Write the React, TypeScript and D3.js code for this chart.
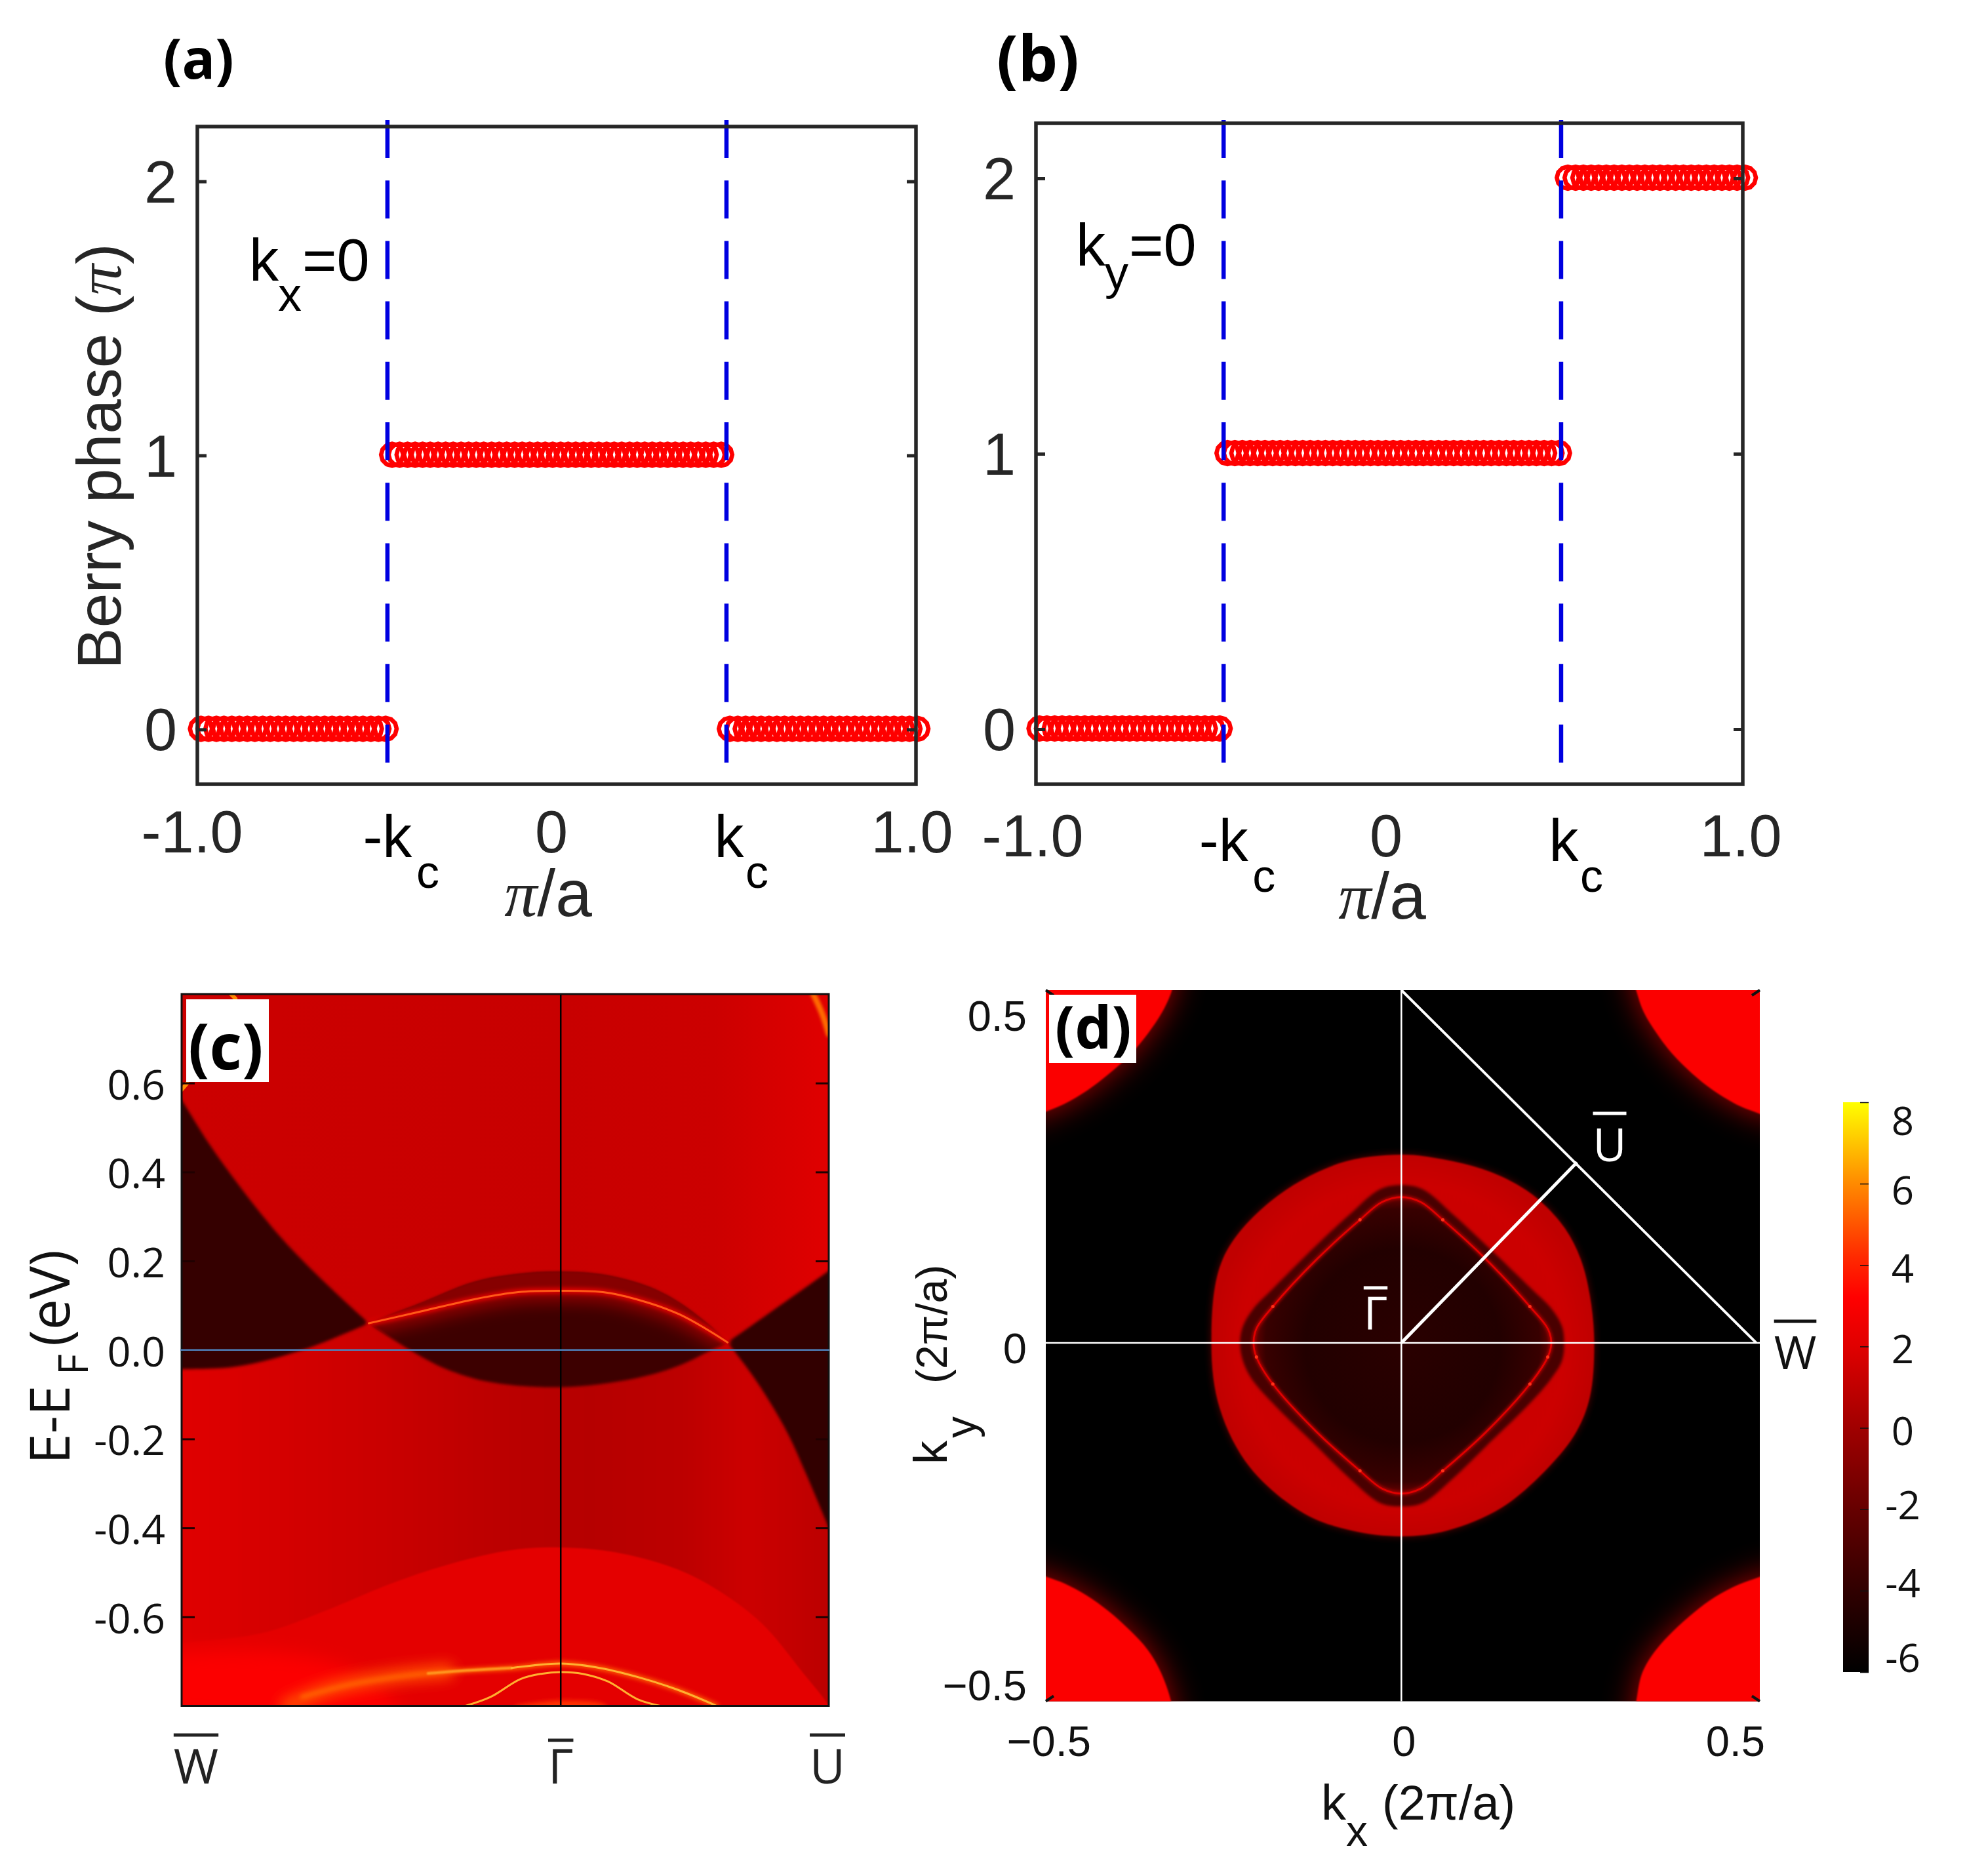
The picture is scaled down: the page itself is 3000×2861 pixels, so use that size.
import { useEffect, useRef } from 'react';
import * as d3 from 'd3';

type Pt = number[];

const SANS = '"Liberation Sans", Arial, sans-serif';
const OPEN = '"Open Sans", sans-serif';
const DARK = '#262626';

// ---- panels (a) and (b): Berry phase against k ----
const berryTicks = [0, 1, 2];
const aCut = [-0.471, 0.4726];
const bCut = [-0.469, 0.486];

const aLowK = [-0.990, -0.969, -0.947, -0.926, -0.904, -0.883, -0.861, -0.840, -0.818, -0.797, -0.775, -0.754, -0.732, -0.711, -0.689, -0.668, -0.646, -0.625, -0.603, -0.582, -0.560, -0.539, -0.517, -0.496, -0.476];
const aMidK = [-0.458, -0.437, -0.415, -0.394, -0.373, -0.352, -0.330, -0.309, -0.288, -0.266, -0.245, -0.224, -0.203, -0.181, -0.160, -0.139, -0.117, -0.096, -0.075, -0.053, -0.032, -0.011, 0.011, 0.032, 0.053, 0.075, 0.096, 0.117, 0.139, 0.160, 0.181, 0.203, 0.224, 0.245, 0.266, 0.288, 0.309, 0.330, 0.352, 0.373, 0.394, 0.415, 0.437, 0.458];
const aHighK = [0.482, 0.504, 0.526, 0.547, 0.569, 0.591, 0.613, 0.634, 0.656, 0.678, 0.700, 0.721, 0.743, 0.765, 0.787, 0.808, 0.830, 0.852, 0.874, 0.895, 0.917, 0.939, 0.961, 0.982, 1.004];
const bLowK = [-0.990, -0.969, -0.947, -0.926, -0.905, -0.884, -0.862, -0.841, -0.820, -0.799, -0.777, -0.756, -0.735, -0.714, -0.692, -0.671, -0.650, -0.629, -0.607, -0.586, -0.565, -0.544, -0.522, -0.501, -0.480];
const bMidK = [-0.458, -0.437, -0.416, -0.394, -0.373, -0.352, -0.330, -0.309, -0.288, -0.266, -0.245, -0.224, -0.202, -0.181, -0.160, -0.138, -0.117, -0.096, -0.074, -0.053, -0.032, -0.010, 0.011, 0.032, 0.054, 0.075, 0.096, 0.118, 0.139, 0.160, 0.182, 0.203, 0.224, 0.246, 0.267, 0.288, 0.310, 0.331, 0.352, 0.374, 0.395, 0.416, 0.438, 0.459, 0.480];
const bHighK = [0.505, 0.527, 0.549, 0.571, 0.592, 0.614, 0.636, 0.658, 0.679, 0.701, 0.723, 0.745, 0.766, 0.788, 0.810, 0.832, 0.854, 0.875, 0.897, 0.919, 0.941, 0.962, 0.984, 1.006];
const aSeries = [{ k: aLowK, phase: 0 }, { k: aMidK, phase: 1 }, { k: aHighK, phase: 0 }];
const bSeries = [{ k: bLowK, phase: 0 }, { k: bMidK, phase: 1 }, { k: bHighK, phase: 2 }];

// ---- panel (c): E(k) map, k runs from W (-1) through Gamma (0) to U (0.707) ----
const cTicks = [0.6, 0.4, 0.2, 0, -0.2, -0.4, -0.6];
const cTickText = ['0.6', '0.4', '0.2', '0.0', '-0.2', '-0.4', '-0.6'];
const wedgeTop: Pt[] = [[-1.03, 0.60], [-1, 0.562], [-0.928, 0.464], [-0.839, 0.359], [-0.734, 0.249], [-0.63, 0.158], [-0.506, 0.06]];
const wedgeBottom: Pt[] = [[-0.506, 0.06], [-0.675, 0.002], [-0.854, -0.037], [-1, -0.043], [-1.03, -0.043]];
const lensBottom: Pt[] = [[-0.506, 0.06], [-0.398, 0], [-0.305, -0.042], [-0.189, -0.072], [0, -0.084], [0.197, -0.064], [0.313, -0.035], [0.398, 0], [0.44, 0.017]];
const lensTop: Pt[] = [[-0.506, 0.06], [-0.382, 0.10], [-0.228, 0.152], [-0.112, 0.17], [0, 0.175], [0.12, 0.167], [0.235, 0.14], [0.313, 0.105], [0.382, 0.061], [0.44, 0.017]];
const surfaceBand: Pt[] = [[-0.506, 0.06], [-0.382, 0.084], [-0.228, 0.114], [-0.112, 0.13], [0, 0.133], [0.12, 0.129], [0.235, 0.105], [0.313, 0.08], [0.382, 0.048], [0.44, 0.017]];
const rightWedgeTop: Pt[] = [[0.44, 0.017], [0.55, 0.083], [0.707, 0.178], [0.74, 0.20]];
const rightWedgeBottom: Pt[] = [[0.44, 0.017], [0.50, -0.05], [0.55, -0.115], [0.60, -0.19], [0.65, -0.285], [0.707, -0.401], [0.74, -0.47]];
const lowBandTop: Pt[] = [[-1.03, -0.662], [-1, -0.659], [-0.791, -0.637], [-0.626, -0.588], [-0.46, -0.529], [-0.295, -0.482], [-0.13, -0.45], [0, -0.444], [0.146, -0.455], [0.311, -0.494], [0.422, -0.544], [0.533, -0.617], [0.643, -0.73], [0.703, -0.794], [0.72, -0.82]];
const lowGlow: Pt[] = [[-1.03, -0.68], [-0.75, -0.68], [-0.55, -0.72], [-0.42, -0.82], [-1.03, -0.82]];
const lowLineOuter: Pt[] = [[-0.681, -0.78], [-0.571, -0.755], [-0.46, -0.738], [-0.35, -0.727], [-0.24, -0.72], [-0.13, -0.715], [0, -0.705], [0.091, -0.713], [0.202, -0.735], [0.312, -0.765], [0.411, -0.80]];
const lowLineSmear: Pt[] = [[-0.72, -0.80], [-0.62, -0.765], [-0.52, -0.745], [-0.42, -0.732], [-0.30, -0.722]];
const lowLineInner: Pt[] = [[-0.251, -0.80], [-0.185, -0.78], [-0.107, -0.74], [-0.052, -0.728], [0, -0.724], [0.058, -0.728], [0.124, -0.745], [0.202, -0.785], [0.262, -0.80]];
const topRightStreak: Pt[] = [[0.666, 0.80], [0.69, 0.755], [0.707, 0.71]];
const topLeftStreak: Pt[] = [[-0.87, 0.80], [-0.858, 0.79]];
const leftStreak: Pt[] = [[-1, 0.585], [-0.985, 0.60]];

// ---- panel (d): constant energy map ----
const dTicks = [-0.5, 0, 0.5];
const dXText = ['\u22120.5', '0', '0.5'];
const dYText = ['\u22120.5', '0', '0.5'];
const blob: Pt[] = [[0, 0.2646], [0.058, 0.258], [0.119, 0.2425], [0.162, 0.2225], [0.196, 0.198], [0.229, 0.161], [0.251, 0.118], [0.264, 0.066], [0.27, 0], [0.264, -0.076], [0.245, -0.125], [0.206, -0.175], [0.14, -0.232], [0.064, -0.264], [0, -0.272], [-0.069, -0.264], [-0.136, -0.24], [-0.212, -0.175], [-0.254, -0.093], [-0.266, 0], [-0.25, 0.118], [-0.183, 0.199], [-0.088, 0.252]];
const diamondOuter: Pt[] = [[0, 0.222], [0.03, 0.216], [0.073, 0.18], [0.119, 0.137], [0.18, 0.078], [0.211, 0.047], [0.225, 0.023], [0.228, 0], [0.225, -0.025], [0.21, -0.05], [0.18, -0.085], [0.119, -0.145], [0.073, -0.19], [0.03, -0.225], [0, -0.23], [-0.03, -0.225], [-0.073, -0.19], [-0.119, -0.145], [-0.18, -0.085], [-0.21, -0.05], [-0.222, -0.025], [-0.226, 0], [-0.222, 0.023], [-0.208, 0.047], [-0.178, 0.078], [-0.119, 0.137], [-0.073, 0.18], [-0.03, 0.216]];
const diamondInner: Pt[] = [[0, 0.205], [0.027, 0.198], [0.058, 0.173], [0.119, 0.117], [0.18, 0.051], [0.205, 0.02], [0.21, 0], [0.205, -0.02], [0.18, -0.058], [0.119, -0.125], [0.058, -0.18], [0.027, -0.205], [0, -0.212], [-0.027, -0.205], [-0.058, -0.18], [-0.119, -0.125], [-0.18, -0.058], [-0.203, -0.02], [-0.207, 0], [-0.203, 0.02], [-0.18, 0.051], [-0.119, 0.117], [-0.058, 0.173], [-0.027, 0.198]];
const diamondSpots: Pt[] = [[0.058, 0.173], [-0.058, 0.173], [0.18, 0.051], [-0.18, 0.051], [0.205, -0.02], [-0.203, -0.02], [0.18, -0.058], [0.058, -0.18], [-0.058, -0.18], [-0.18, -0.058]];
const cornerTR: Pt[] = [[0.322, 0.52], [0.329, 0.495], [0.3395, 0.465], [0.358, 0.4346], [0.379, 0.407], [0.407, 0.379], [0.437, 0.355], [0.474, 0.333], [0.502, 0.322], [0.53, 0.31]];
const cornerTL: Pt[] = [[-0.318, 0.52], [-0.321, 0.497], [-0.335, 0.465], [-0.355, 0.435], [-0.38, 0.405], [-0.41, 0.378], [-0.44, 0.355], [-0.472, 0.336], [-0.498, 0.325], [-0.53, 0.31]];
const cornerBL: Pt[] = [[-0.319, -0.53], [-0.323, -0.5025], [-0.337, -0.463], [-0.355, -0.432], [-0.38, -0.4045], [-0.4105, -0.377], [-0.441, -0.355], [-0.4717, -0.3384], [-0.4968, -0.329], [-0.53, -0.315]];
const cornerBR: Pt[] = [[0.325, -0.53], [0.329, -0.504], [0.337, -0.465], [0.355, -0.434], [0.38, -0.406], [0.41, -0.379], [0.44, -0.357], [0.472, -0.34], [0.502, -0.329], [0.53, -0.315]];
const pathGU: Pt[] = [[0, 0], [0.246, 0.254]];
const pathUW: Pt[] = [[0, 0.496], [0.497, 0]];

const cbTicks = [-6, -4, -2, 0, 2, 4, 6, 8];
const cbStopValues = [-6, -4, -2, 0, 2, 3.2, 4.2, 6, 8];
const cbStopColors = ['#000000', '#300000', '#660000', '#a00000', '#e00000', '#ff0000', '#ff2a00', '#ff8a00', '#ffff00'];

const App = () => {
    const svgRef = useRef<SVGSVGElement | null>(null);

    const renderChart = () => {
        const svgElement = svgRef.current;
        if (!svgElement) return;
        document.body.style.margin = '0';

        const svg = d3.select(svgElement);
        svg.selectAll('*').remove();
        svg.append('rect').attr('width', 3000).attr('height', 2861).attr('fill', '#fff');

        const defs = svg.append('defs');
        [1, 2, 3, 6, 10, 14, 24].forEach(s => {
            defs.append('filter').attr('id', `blur${s}`)
                .attr('filterUnits', 'userSpaceOnUse')
                .attr('x', 0).attr('y', 1400).attr('width', 3000).attr('height', 1461)
                .append('feGaussianBlur').attr('stdDeviation', s);
        });

        const gradient = (id: string, x1: number, x2: number, stops: [number, string][]) => {
            const g = defs.append('linearGradient').attr('id', id)
                .attr('gradientUnits', 'userSpaceOnUse')
                .attr('x1', x1).attr('x2', x2).attr('y1', 0).attr('y2', 0);
            stops.forEach(([at, color]) => {
                g.append('stop').attr('offset', (at - x1) / (x2 - x1)).attr('stop-color', color);
            });
        };

        const textAt = (x: number, y: number, str: string, size: number, family = SANS, fill = DARK, anchor = 'middle') =>
            svg.append('text').attr('x', x).attr('y', y).attr('text-anchor', anchor)
                .attr('font-family', family).attr('font-size', size).attr('fill', fill).text(str);

        const barLabel = (x: number, base: number, str: string, barY: number, size: number, fill: string) => {
            const t = textAt(x, base, str, size, OPEN, fill);
            const w = (t.node() as SVGTextElement).getComputedTextLength();
            svg.append('line').attr('x1', x - w / 2).attr('x2', x + w / 2).attr('y1', barY).attr('y2', barY)
                .attr('stroke', fill).attr('stroke-width', 5);
        };

        // ---- (a) (b) ----
        const marker = d3.lineRadial<number>().radius(16.8).angle(d => d).curve(d3.curveLinearClosed);
        const markerPath = marker([0, 1, 2, 3, 4, 5, 6, 7, 8, 9, 10, 11].map(i => Math.PI / 6 * i + Math.PI / 2));

        const drawBerry = (o: any) => {
            const x = d3.scaleLinear().domain([-1, 1]).range([o.left, o.right]);
            const y = d3.scaleLinear().domain([-0.2, 2.2]).range([1196, o.top]);
            const g = svg.append('g');

            o.series.forEach((s: any) => {
                g.append('g').selectAll('path').data(s.k).join('path')
                    .attr('d', markerPath)
                    .attr('transform', (d: any) => `translate(${x(d)},${y(s.phase) - 1})`)
                    .attr('fill', 'none').attr('stroke', '#ff0000').attr('stroke-width', 6.6);
            });

            o.cut.forEach((k: number) => {
                g.append('line').attr('x1', x(k)).attr('x2', x(k)).attr('y1', 183).attr('y2', 1164)
                    .attr('stroke', '#0000e0').attr('stroke-width', 6.5)
                    .attr('stroke-dasharray', '58,34.2');
            });

            const left = svg.append('g').attr('transform', `translate(${o.left},0)`)
                .call(d3.axisLeft(y).tickValues(berryTicks).tickSize(-14).tickFormat(() => '') as any);
            const right = svg.append('g').attr('transform', `translate(${o.right},0)`)
                .call(d3.axisRight(y).tickValues(berryTicks).tickSize(-14).tickFormat(() => '') as any);
            [left, right].forEach(a => {
                a.select('.domain').remove();
                a.selectAll('line').attr('stroke', DARK).attr('stroke-width', 5);
            });
            svg.append('rect').attr('x', o.left).attr('y', o.top)
                .attr('width', o.right - o.left).attr('height', 1196 - o.top)
                .attr('fill', 'none').attr('stroke', DARK).attr('stroke-width', 5.5);

            berryTicks.forEach(t => textAt(o.left - 56, y(t) + 32, String(t), 90));

            textAt(x(-1) + o.numDx, o.numBase, '-1.0', 90);
            textAt(x(0) + o.numDx, o.numBase, '0', 90);
            textAt(x(1) + o.numDx + 2, o.numBase, '1.0', 90);
            textAt(x(o.cut[0]), o.kBase, '-k', 90, SANS, '#000');
            textAt(x(o.cut[0]) + 44, o.kBase + 47, 'c', 70, SANS, '#000', 'start');
            textAt(x(o.cut[1]) + 4, o.kBase, 'k', 90, SANS, '#000');
            textAt(x(o.cut[1]) + 29, o.kBase + 47, 'c', 70, SANS, '#000', 'start');

            const unit = textAt(o.unitX, o.unitBase, '', 100);
            unit.append('tspan').attr('font-family', '"Liberation Serif", serif').attr('font-style', 'italic').text('\u03c0');
            unit.append('tspan').text('/a');

            textAt(o.fixX, o.fixBase, 'k', 90, SANS, '#000', 'start');
            textAt(o.fixX + 44, o.fixBase + o.subDy, o.fixSub, 72, SANS, '#000', 'start');
            textAt(o.fixX + o.eqDx, o.fixBase, '=0', 90, SANS, '#000', 'start');
        };

        drawBerry({
            left: 301, right: 1397, top: 193, series: aSeries, cut: aCut, numDx: -8, numBase: 1300, kBase: 1307,
            unitX: 836, unitBase: 1397, fixX: 380, fixBase: 428, fixSub: 'x', subDy: 46, eqDx: 81,
        });
        drawBerry({
            left: 1580, right: 2658, top: 188, series: bSeries, cut: bCut, numDx: -5, numBase: 1306, kBase: 1313,
            unitX: 2108, unitBase: 1401, fixX: 1641, fixBase: 405, fixSub: 'y', subDy: 36, eqDx: 81,
        });

        const yLab = svg.append('text').attr('transform', 'translate(184,696) rotate(-90)')
            .attr('text-anchor', 'middle').attr('font-family', SANS).attr('font-size', 95).attr('fill', DARK);
        yLab.append('tspan').text('Berry phase (');
        yLab.append('tspan').attr('font-family', '"Liberation Serif", serif').attr('font-style', 'italic').text('\u03c0');
        yLab.append('tspan').text(')');

        textAt(249, 120, '(a)', 84, OPEN, '#000', 'start').attr('font-weight', 700);
        textAt(1520, 124, '(b)', 96, OPEN, '#000', 'start').attr('font-weight', 700);

        // ---- (c) ----
        const cx = d3.scaleLinear().domain([-1, 0.707]).range([277, 1264]);
        const cy = d3.scaleLinear().domain([-0.8, 0.8]).range([2601.5, 1516]);
        const cLine = d3.line<Pt>().x(d => cx(d[0])).y(d => cy(d[1])).curve(d3.curveCatmullRom.alpha(0.5));
        const cShape = (...segs: Pt[][]) => segs.map((s, i) => {
            const p = cLine(s) as string;
            return i ? p.replace(/^M/, 'L') : p;
        }).join('') + 'Z';

        gradient('cUpper', 277, 1264, [[277, '#cc0000'], [855, '#c80000'], [1090, '#cc0000'], [1264, '#e00000']]);
        gradient('cLower', 277, 1264, [[277, '#e00000'], [430, '#d40000'], [610, '#c80000'], [780, '#ba0000'], [900, '#b60000'], [1040, '#bc0000'], [1140, '#cc0000'], [1264, '#bc0000']]);

        defs.append('clipPath').attr('id', 'cClip').append('rect')
            .attr('x', 277).attr('y', 1516).attr('width', 987).attr('height', 1085.5);
        const c = svg.append('g').attr('clip-path', 'url(#cClip)');
        c.append('rect').attr('x', 277).attr('y', 1516).attr('width', 987).attr('height', 1086).attr('fill', 'url(#cUpper)');

        const soft = (d: string, fill: string, blur: number) =>
            c.append('path').attr('d', d).attr('fill', fill).attr('filter', `url(#blur${blur})`);
        const stroke = (pts: Pt[], color: string, width: number, blur?: number) => {
            const p = c.append('path').attr('d', cLine(pts) as string).attr('fill', 'none')
                .attr('stroke', color).attr('stroke-width', width).attr('stroke-linecap', 'round');
            if (blur) p.attr('filter', `url(#blur${blur})`);
            return p;
        };

        soft(cShape([...wedgeBottom].reverse(), lensBottom, rightWedgeBottom, [[0.74, -0.82], [-1.03, -0.82]]), 'url(#cLower)', 3);
        soft(cShape(lowBandTop, [[0.72, -0.84], [-1.03, -0.84]]), '#e40000', 1);
        soft(cShape(lowGlow), '#fc0000', 14);
        soft(cShape(wedgeTop, wedgeBottom), '#360000', 2);
        soft(cShape(rightWedgeTop, [[0.74, -0.47], [0.74, 0.20]], [...rightWedgeBottom].reverse()), '#300000', 2);
        soft(cShape(lensTop, [...lensBottom].reverse()), '#3c0000', 2);

        // glow under the surface band stays inside the lens
        defs.append('clipPath').attr('id', 'lensClip').append('path').attr('d', cShape(lensTop, [...lensBottom].reverse()));
        const glow = c.append('g').attr('clip-path', 'url(#lensClip)');
        glow.append('path').attr('d', cLine(surfaceBand) as string).attr('fill', 'none')
            .attr('stroke', '#a80000').attr('stroke-width', 26).attr('filter', 'url(#blur14)');
        soft(cShape(lensTop, [...surfaceBand].reverse()), '#860000', 1);
        stroke(surfaceBand, '#e00000', 9, 3);
        stroke(surfaceBand, '#ff5a18', 3);

        stroke(lowLineSmear, '#ff4a00', 24, 10);
        stroke(lowLineOuter, '#ff6000', 7, 3);
        stroke(lowLineOuter.slice(3, 6), '#ff9a20', 4, 1);
        stroke(lowLineOuter.slice(5), '#ffb030', 3);
        stroke(lowLineInner, '#ffb030', 3);
        soft(cShape([[-0.12, -0.8], [0, -0.788], [0.12, -0.8], [0.12, -0.82], [-0.12, -0.82]]), '#ff3000', 3);
        stroke(topRightStreak, '#ff6a00', 9, 2);
        stroke(topLeftStreak, '#ff8a00', 6);
        stroke(leftStreak, '#ff8a00', 6);

        svg.append('line').attr('x1', cx(0)).attr('x2', cx(0)).attr('y1', 1516).attr('y2', 2601)
            .attr('stroke', '#000').attr('stroke-width', 2.5);

        const cLeft = svg.append('g').attr('transform', 'translate(277,0)')
            .call(d3.axisLeft(cy).tickValues(cTicks).tickSize(-20).tickFormat(() => '') as any);
        const cRight = svg.append('g').attr('transform', 'translate(1264,0)')
            .call(d3.axisRight(cy).tickValues(cTicks).tickSize(-20).tickFormat(() => '') as any);
        [cLeft, cRight].forEach(a => {
            a.select('.domain').remove();
            a.selectAll('line').attr('stroke', '#200000').attr('stroke-width', 3);
        });
        svg.append('rect').attr('x', 277).attr('y', 1516).attr('width', 987).attr('height', 1085.5)
            .attr('fill', 'none').attr('stroke', '#111').attr('stroke-width', 3);
        svg.append('line').attr('x1', 275).attr('x2', 1265).attr('y1', cy(0)).attr('y2', cy(0))
            .attr('stroke', '#4f7fb8').attr('stroke-width', 2.5);

        svg.append('rect').attr('x', 284).attr('y', 1524).attr('width', 126).attr('height', 126).attr('fill', '#fff');
        textAt(287, 1631, '(c)', 96, OPEN, '#000', 'start').attr('font-weight', 700);

        cTicks.forEach((t, i) => textAt(252, cy(t) + 25, cTickText[i], 63, OPEN, '#111', 'end'));

        const cLab = svg.append('g').attr('transform', 'translate(106,2233) rotate(-90)');
        cLab.append('text').attr('font-family', OPEN).attr('font-size', 84).attr('fill', '#111').text('E-E');
        cLab.append('text').attr('x', 136).attr('y', 28).attr('font-family', OPEN).attr('font-size', 62).attr('fill', '#111').text('F');
        cLab.append('text').attr('x', 180).attr('font-family', OPEN).attr('font-size', 84).attr('fill', '#111').text('(eV)');

        barLabel(cx(-1) + 22, 2720, 'W', 2646, 74, '#222');
        barLabel(cx(0), 2720, '\u0393', 2654, 74, '#222');
        barLabel(cx(0.707) - 2, 2720, 'U', 2646, 74, '#222');

        // ---- (d) ----
        const dx = d3.scaleLinear().domain([-0.498, 0.502]).range([1595, 2684]);
        const dy = d3.scaleLinear().domain([-0.504, 0.496]).range([2594.5, 1510]);
        const dCurve = d3.line<Pt>().x(d => dx(d[0])).y(d => dy(d[1])).curve(d3.curveCatmullRomClosed.alpha(0.5));
        const dOpen = d3.line<Pt>().x(d => dx(d[0])).y(d => dy(d[1])).curve(d3.curveCatmullRom.alpha(0.5));
        const dStraight = d3.line<Pt>().x(d => dx(d[0])).y(d => dy(d[1]));

        defs.append('clipPath').attr('id', 'dClip').append('rect')
            .attr('x', 1595).attr('y', 1510).attr('width', 1089).attr('height', 1084.5);
        const g = svg.append('g').attr('clip-path', 'url(#dClip)');
        g.append('rect').attr('x', 1595).attr('y', 1510).attr('width', 1089).attr('height', 1085).attr('fill', '#000');

        const corners: [Pt[], Pt][] = [[cornerTR, [0.56, 0.56]], [cornerTL, [-0.56, 0.56]], [cornerBL, [-0.56, -0.56]], [cornerBR, [0.56, -0.56]]];
        corners.forEach(([pts, far]) => {
            const d = `${dOpen(pts)}L${dx(far[0])},${dy(far[1])}L${dx(pts[0][0])},${dy(far[1])}Z`;
            g.append('path').attr('d', d).attr('fill', '#a00000').attr('filter', 'url(#blur24)');
            g.append('path').attr('d', d).attr('fill', '#fb0000').attr('filter', 'url(#blur1)');
        });

        defs.append('radialGradient').attr('id', 'blobFill')
            .selectAll('stop').data([[0, '#c80000'], [0.85, '#cc0000'], [1, '#c00000']]).join('stop')
            .attr('offset', (d: any) => d[0]).attr('stop-color', (d: any) => d[1]);
        defs.append('radialGradient').attr('id', 'innerFill')
            .selectAll('stop').data([[0, '#2a0000'], [0.65, '#220000'], [0.92, '#380000'], [1, '#680000']]).join('stop')
            .attr('offset', (d: any) => d[0]).attr('stop-color', (d: any) => d[1]);

        g.append('path').attr('d', dCurve(blob) as string).attr('fill', '#5a0000').attr('filter', 'url(#blur6)');
        g.append('path').attr('d', dCurve(blob) as string).attr('fill', 'url(#blobFill)').attr('filter', 'url(#blur1)');
        g.append('path').attr('d', dCurve(diamondOuter) as string).attr('fill', '#4a0000').attr('filter', 'url(#blur2)');
        g.append('path').attr('d', dCurve(diamondInner) as string).attr('fill', 'url(#innerFill)');
        g.append('path').attr('d', dCurve(diamondInner) as string).attr('fill', 'none')
            .attr('stroke', '#a80000').attr('stroke-width', 6).attr('filter', 'url(#blur2)');
        g.append('path').attr('d', dCurve(diamondInner) as string).attr('fill', 'none')
            .attr('stroke', '#e00000').attr('stroke-width', 2.6);
        g.selectAll('circle.spot').data(diamondSpots).join('circle')
            .attr('cx', d => dx(d[0])).attr('cy', d => dy(d[1])).attr('r', 2.5).attr('fill', '#ff3018');

        const whiteLine = (pts: Pt[], width: number) => svg.append('path').attr('d', dStraight(pts) as string)
            .attr('fill', 'none').attr('stroke', '#fff').attr('stroke-width', width);
        svg.append('line').attr('x1', dx(0)).attr('x2', dx(0)).attr('y1', 1510).attr('y2', 2594.5).attr('stroke', '#fff').attr('stroke-width', 2.5);
        svg.append('line').attr('x1', 1595).attr('x2', 2684).attr('y1', dy(0)).attr('y2', dy(0)).attr('stroke', '#fff').attr('stroke-width', 2.5);
        whiteLine(pathUW, 4);
        whiteLine(pathGU, 5);

        // small black corner ticks of the map
        [[1595, 2594.5, 12, -8], [2684, 1510, -12, 8], [2684, 2594.5, -12, -8], [1595, 1510, 12, 8]].forEach(t => {
            svg.append('line').attr('x1', t[0]).attr('y1', t[1]).attr('x2', t[0] + t[2]).attr('y2', t[1] + t[3])
                .attr('stroke', '#111').attr('stroke-width', 4);
        });

        svg.append('rect').attr('x', 1600).attr('y', 1517).attr('width', 133).attr('height', 104).attr('fill', '#fff');
        textAt(1609, 1599, '(d)', 89, OPEN, '#000', 'start').attr('font-weight', 700);

        barLabel(2098, 2028, '\u0393', 1964, 70, '#fff');
        barLabel(2455, 1771, 'U', 1698, 70, '#fff');
        barLabel(2738, 2088, 'W', 2015, 70, '#111');

        const xLabelDx = [7, 4, 0];
        dTicks.forEach((t, i) => {
            if (i < 2) textAt(dx(t) + xLabelDx[i], 2678, dXText[i], 65, SANS, '#111');
            else textAt(2692, 2678, dXText[i], 65, SANS, '#111', 'end');
        });
        const yLabelY = [2593, 2079, 1572];
        dTicks.forEach((_, i) => textAt(1566, yLabelY[i], dYText[i], 65, SANS, '#111', 'end'));

        textAt(2015, 2775, 'k', 76, SANS, '#111', 'start');
        textAt(2053, 2815, 'x', 66, SANS, '#111', 'start');
        textAt(2108, 2775, '(2\u03c0/a)', 74, SANS, '#111', 'start');
        const kyLab = svg.append('g').attr('transform', 'translate(1444,2233) rotate(-90)');
        kyLab.append('text').attr('font-family', SANS).attr('font-size', 72).attr('fill', '#111').text('k');
        kyLab.append('text').attr('x', 40).attr('y', 44).attr('font-family', SANS).attr('font-size', 66).attr('fill', '#111').text('y');
        kyLab.append('text').attr('x', 123).attr('font-family', SANS).attr('font-size', 66).attr('fill', '#111').text('(2\u03c0/a)');

        // colour bar
        const cb = d3.scaleLinear().domain([-6, 8]).range([2550, 1681]);
        const cbLabelCentre = [2528, 2414, 2295, 2182, 2057, 1934, 1815, 1709];
        const cbGrad = defs.append('linearGradient').attr('id', 'cbGrad').attr('x1', 0).attr('x2', 0).attr('y1', 1).attr('y2', 0);
        cbStopValues.forEach((v, i) => {
            cbGrad.append('stop').attr('offset', (v + 6) / 14).attr('stop-color', cbStopColors[i]);
        });
        svg.append('rect').attr('x', 2811).attr('y', 1681).attr('width', 39).attr('height', 869).attr('fill', 'url(#cbGrad)');
        const cbAxis = svg.append('g').attr('transform', 'translate(2850,0)')
            .call(d3.axisRight(cb).tickValues(cbTicks).tickSize(-13).tickFormat(() => '') as any);
        cbAxis.select('.domain').remove();
        cbAxis.selectAll('line').attr('stroke', '#111').attr('stroke-width', 1.5);
        cbTicks.forEach((t, i) => textAt(2902, cbLabelCentre[i] + 22, String(t), 60, OPEN, '#111'));
    };

    useEffect(() => {
        renderChart();
    }, []);

    return (
        <svg ref={svgRef} width={3000} height={2861} style={{ position: 'absolute', left: 0, top: 0, display: 'block' }}></svg>
    );
};

export default App;
